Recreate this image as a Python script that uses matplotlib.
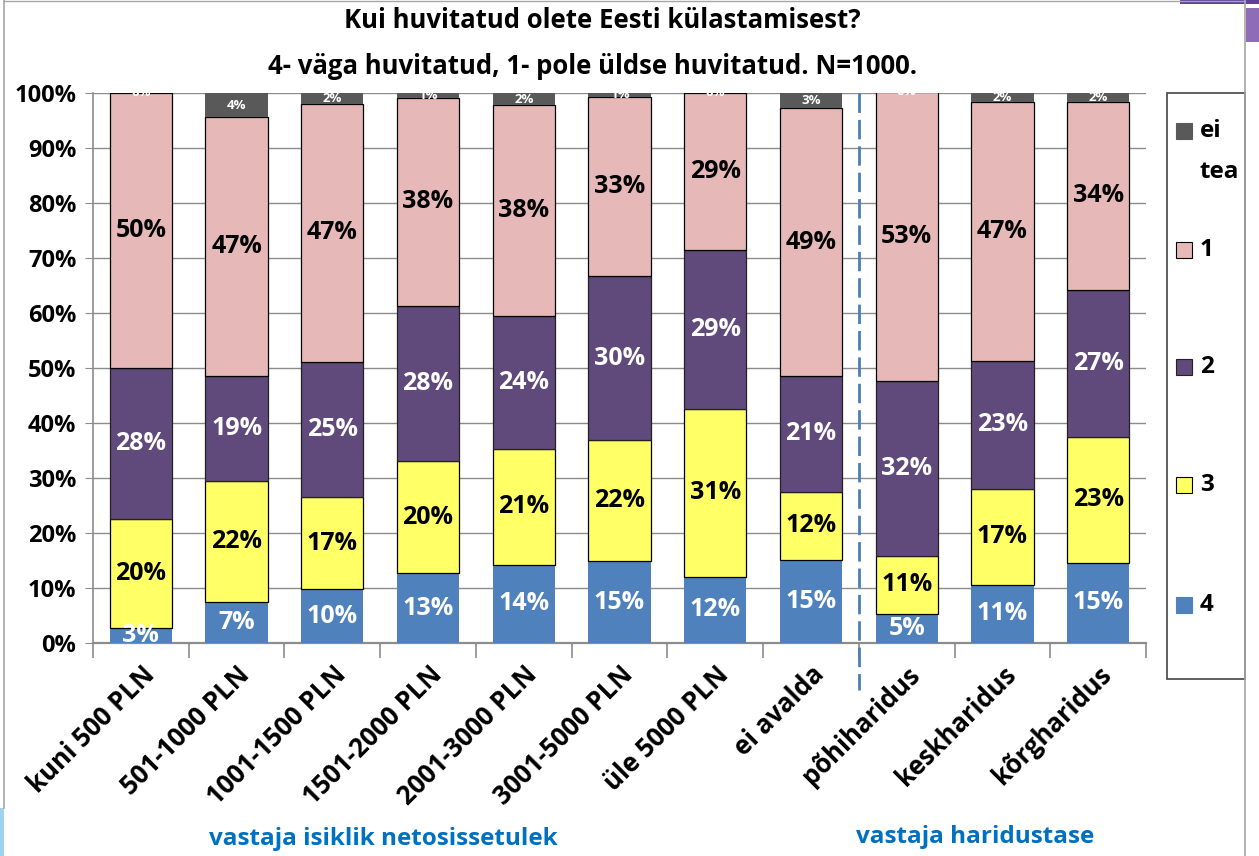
import matplotlib
matplotlib.use("Agg")
import matplotlib.pyplot as plt
from matplotlib.patches import Rectangle
from matplotlib.lines import Line2D
import numpy as np

plt.rcParams['font.family'] = ['Open Sans', 'DejaVu Sans']
plt.rcParams['font.weight'] = 'bold'

categories = ["kuni 500 PLN", "501-1000 PLN", "1001-1500 PLN", "1501-2000 PLN",
              "2001-3000 PLN", "3001-5000 PLN", "üle 5000 PLN", "ei avalda",
              "põhiharidus", "keskharidus", "kõrgharidus"]
s4 = [2.7, 7.4, 9.8, 12.7, 14.2, 14.9, 12.0, 15.1, 5.3, 10.6, 14.6]
s3 = [19.8, 22.0, 16.7, 20.4, 21.1, 22.0, 30.6, 12.4, 10.6, 17.4, 22.9]
s2 = [27.5, 19.1, 24.6, 28.2, 24.2, 29.8, 28.8, 21.0, 31.7, 23.3, 26.7]
s1 = [50.0, 47.1, 46.9, 37.8, 38.3, 32.6, 28.6, 48.8, 52.6, 47.1, 34.2]
s_eitea = [0.0, 4.4, 2.0, 0.9, 2.2, 0.7, 0.0, 2.7, 0.0, 1.6, 1.6]
series_names = ["4", "3", "2", "1", "ei tea"]
group_labels = ["vastaja isiklik netosissetulek", "vastaja haridustase"]
title_lines = ["Kui huvitatud olete Eesti külastamisest?",
               "4- väga huvitatud, 1- pole üldse huvitatud. N=1000."]

W, H = 1259, 856
fig = plt.figure(figsize=(W / 100, H / 100), dpi=100)
ax = fig.add_axes([93 / W, 1 - 643 / H, (1146 - 93) / W, (643 - 93) / H])

colors = ["#4F81BD", "#FFFF66", "#604A7B", "#E6B9B8", "#595959"]
edges = ["none", "black", "#222222", "black", "none"]
txtcol = ["white", "black", "white", "black", "white"]
fsz = [18, 18, 18, 18, 9.5]

x = np.arange(len(categories))
bottom = np.zeros(len(categories))
for vals, col, ec, tc, fs, name in zip([s4, s3, s2, s1, s_eitea], colors, edges, txtcol, fsz, series_names):
    vals = np.array(vals)
    ax.bar(x, vals, 0.65, bottom=bottom, color=col, edgecolor=ec,
           linewidth=0.9 if ec != "none" else 0, zorder=3, label=name)
    for xi, b, v in zip(x, bottom, vals):
        ax.text(xi, b + v / 2, "%.0f%%" % v, ha="center", va="center", color=tc,
                fontsize=fs, fontweight="bold", zorder=5, clip_on=False)
    bottom = bottom + vals

ax.set_xlim(-0.5, len(categories) - 0.5)
ax.set_ylim(0, 100)
ax.set_yticks(np.arange(0, 101, 10))
ax.set_yticklabels(["%d%%" % v for v in range(0, 101, 10)], fontsize=17, fontweight="bold")
ax.yaxis.grid(True, color="#8C8C8C", linewidth=1.0, zorder=0)
ax.tick_params(axis="y", length=6, color="#8C8C8C", pad=6)
for sp in ["top", "right"]:
    ax.spines[sp].set_visible(False)
ax.spines["left"].set_color("#8C8C8C")
ax.spines["bottom"].set_color("#8C8C8C")
ax.spines["left"].set_linewidth(1.2)
ax.spines["bottom"].set_linewidth(1.6)

ax.set_xticks(x)
ax.set_xticklabels(categories, rotation=45, ha="right", va="top", rotation_mode="anchor",
                   fontsize=18.5, fontweight="bold")
ax.tick_params(axis="x", length=0, pad=13)
ax.set_xticks(np.arange(-0.5, len(categories), 1.0), minor=True)
ax.tick_params(axis="x", which="minor", length=11, color="#8C8C8C", width=1.2)

# separator dashed line
ax.plot([7.5, 7.5], [100, -8.5], color="#4A7EBB", linewidth=2, linestyle=(0, (7, 2.5)),
        clip_on=False, zorder=4)

fig.text(602 / W, 1 - 21 / H, title_lines[0], ha="center", va="center", fontsize=18.5,
         fontweight="bold")
fig.text(593 / W, 1 - 66 / H, title_lines[1], ha="center", va="center", fontsize=18.5,
         fontweight="bold")

fig.text(383 / W, 1 - 839 / H, group_labels[0], ha="center", va="center", fontsize=17.5,
         fontweight="bold", color="#0070C0")
fig.text(975 / W, 1 - 837 / H, group_labels[1], ha="center", va="center", fontsize=17.5,
         fontweight="bold", color="#0070C0")

# legend box
fig.patches.append(Rectangle((1167 / W, 1 - 679 / H), (1245 - 1167) / W, (679 - 93) / H,
                             transform=fig.transFigure, facecolor="white", edgecolor="#444444",
                             linewidth=1.2))
leg_entries = [("ei", 4, 131), ("1", 3, 250), ("2", 2, 367), ("3", 1, 485), ("4", 0, 605)]
for lab, idx, ym in leg_entries:
    ec = edges[idx] if edges[idx] != "none" else colors[idx]
    fig.patches.append(Rectangle((1176 / W, 1 - (ym + 8) / H), 16 / W, 16 / H,
                                 transform=fig.transFigure, facecolor=colors[idx],
                                 edgecolor=ec, linewidth=0.8))
    fig.text(1200 / W, 1 - ym / H, lab, ha="left", va="center", fontsize=17.5,
             fontweight="bold")
fig.text(1200 / W, 1 - 172 / H, "tea", ha="left", va="center", fontsize=17.5,
         fontweight="bold")

# frame decorations
fig.add_artist(Line2D([4 / W, 4 / W], [1, 1 - 808 / H], transform=fig.transFigure,
                      color="#A6A6A6", linewidth=1.2))
fig.add_artist(Line2D([1245 / W, 1245 / W], [1, 0], transform=fig.transFigure,
                      color="#A6A6A6", linewidth=1.2))
fig.add_artist(Line2D([4 / W, 1245 / W], [1 - 1 / H, 1 - 1 / H], transform=fig.transFigure,
                      color="#A6A6A6", linewidth=1.0))
fig.patches.append(Rectangle((0, 0), 4 / W, (856 - 808) / H, transform=fig.transFigure,
                             facecolor="#9DD3EE", edgecolor="none"))
fig.patches.append(Rectangle((1180 / W, 1 - 4 / H), (W - 1180) / W, 4 / H,
                             transform=fig.transFigure, facecolor="#5F3F9B", edgecolor="none"))
fig.patches.append(Rectangle((1246 / W, 1 - 42 / H), (W - 1246) / W, 34 / H,
                             transform=fig.transFigure, facecolor="#8E6CB8", edgecolor="none"))

fig.savefig("out.png", dpi=100)
